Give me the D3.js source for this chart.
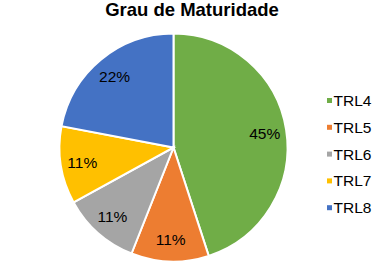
<!DOCTYPE html>
<html lang="pt">
<head>
    <meta charset="utf-8">
    <title>Grau de Maturidade</title>
    <script type="text/javascript" src="https://d3js.org/d3.v7.min.js"></script>
    <style>
        body { margin: 0; background: white; }
        text { font-family: "Liberation Sans", Arial, sans-serif; fill: #000; }
    </style>
</head>
<body>
    <div id="chart"></div>
    <script type="text/javascript">
        const width = 388;
        const height = 266;

        // data
        const categories = ["TRL4", "TRL5", "TRL6", "TRL7", "TRL8"];
        const values = [45, 11, 11, 11, 22];
        const colors = ["#70AD47", "#ED7D31", "#A5A5A5", "#FFC000", "#4472C4"];

        const cx = 173.5, cy = 147.5, radius = 114;

        const svg = d3.select("#chart")
            .append("svg")
            .attr("width", width)
            .attr("height", height);

        svg.append("text")
            .attr("x", 192)
            .attr("y", 16)
            .attr("text-anchor", "middle")
            .style("font-size", "18.5px")
            .style("font-weight", "bold")
            .text("Grau de Maturidade");

        const data = categories.map((c, i) => ({ name: c, value: values[i], color: colors[i] }));
        const total = d3.sum(values);

        const pie = d3.pie().sort(null).value(d => d.value);
        const arc = d3.arc().innerRadius(0).outerRadius(radius);
        const labelArc = d3.arc().innerRadius(radius * 0.81).outerRadius(radius * 0.81);

        const g = svg.append("g").attr("transform", `translate(${cx},${cy})`);
        const arcs = pie(data);

        g.selectAll("path")
            .data(arcs)
            .enter()
            .append("path")
            .attr("d", arc)
            .attr("fill", d => d.data.color)
            .attr("stroke", "white")
            .attr("stroke-width", 2);

        g.selectAll("text.lbl")
            .data(arcs)
            .enter()
            .append("text")
            .attr("class", "lbl")
            .attr("transform", d => `translate(${labelArc.centroid(d)})`)
            .attr("text-anchor", "middle")
            .attr("dy", "0.36em")
            .style("font-size", "15.5px")
            .text(d => Math.round(d.data.value / total * 100) + "%");

        // legend
        const legend = svg.append("g").attr("transform", "translate(327,100.5)");
        const row = legend.selectAll("g")
            .data(data)
            .enter()
            .append("g")
            .attr("transform", (d, i) => `translate(0,${i * 26.8})`);
        row.append("rect")
            .attr("x", 0)
            .attr("y", -2.5)
            .attr("width", 5)
            .attr("height", 5)
            .attr("fill", d => d.color);
        row.append("text")
            .attr("x", 6.5)
            .attr("dy", "0.36em")
            .style("font-size", "15.5px")
            .text(d => d.name);
    </script>
</body>
</html>
